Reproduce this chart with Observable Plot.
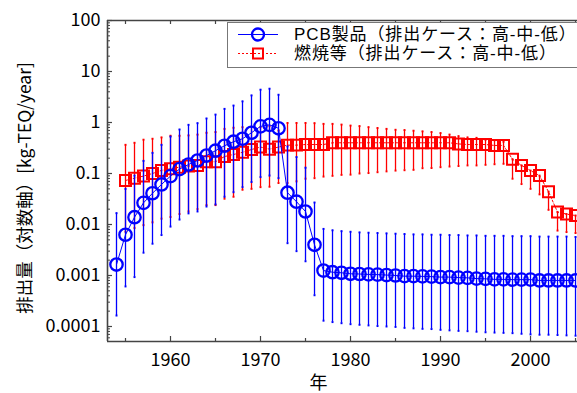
<!DOCTYPE html>
<html><head><meta charset="utf-8">
<script src="https://cdn.jsdelivr.net/npm/d3@7"></script>
<script src="https://cdn.jsdelivr.net/npm/@observablehq/plot@0.6"></script>
<style>
body{margin:0;background:#fff;}
#wrap{position:relative;width:577px;height:393px;overflow:hidden;font-family:"Noto Sans CJK JP",sans-serif;}
#legend{position:absolute;left:227px;top:22px;width:350px;height:46px;border:1px solid #777;border-right:none;background:#fff;box-sizing:border-box;}
.row{position:absolute;left:0;height:19px;display:flex;align-items:center;white-space:nowrap;color:#000;font-family:"Liberation Sans","Noto Sans CJK JP",sans-serif;font-size:17px;line-height:19px;}
.row svg{display:block;flex:none;}
.row span{margin-left:6px;letter-spacing:0.9px;}
</style></head><body>
<div id="wrap"><div id="chart"></div><div id="legend"></div></div>
<script>
// ---- data ----
const pcbYears = [1954,1955,1956,1957,1958,1959,1960,1961,1962,1963,1964,1965,1966,1967,1968,1969,1970,1971,1972,1973,1974,1975,1976,1977,1978,1979,1980,1981,1982,1983,1984,1985,1986,1987,1988,1989,1990,1991,1992,1993,1994,1995,1996,1997,1998,1999,2000,2001,2002,2003,2004,2005];
const pcbMid = [0.00164,0.0063,0.0139,0.0266,0.041,0.061,0.089,0.122,0.15,0.18,
  0.225,0.28,0.35,0.42,0.48,0.63,0.84,0.9,0.77,0.042,
  0.028,0.018,0.004,0.00125,0.00116,0.00113,0.00108,0.00107,0.00105,0.00104,
  0.00102,0.001,0.00097,0.00097,0.00096,0.00095,0.00093,0.00093,0.00091,0.0009,
  0.00087,0.00086,0.00084,0.00084,0.00083,0.00083,0.00083,0.0008,0.0008,0.0008,
  0.0008,0.0008];
const pcbHigh = [0.0167,0.05,0.091,0.177,0.254,0.365,0.53,0.73,0.9,0.97,
  1.2,1.43,1.85,2.15,2.6,3.4,4.4,4.6,3.5,0.34,
  0.21,0.13,0.027,0.0082,0.0077,0.0074,0.0072,0.007,0.0069,0.0068,
  0.0067,0.0066,0.0065,0.0064,0.0064,0.0063,0.0063,0.0062,0.0062,0.0061,
  0.0061,0.006,0.006,0.006,0.0059,0.0059,0.0059,0.0058,0.0058,0.0058,
  0.0058,0.0057];
const pcbLow = [0.000164,0.00061,0.00093,0.0028,0.0042,0.0062,0.0091,0.0125,0.0165,0.018,
  0.0225,0.0247,0.035,0.043,0.054,0.068,0.085,0.091,0.081,0.0043,
  0.003,0.0019,0.00041,0.00013,0.000122,0.000116,0.000111,0.000108,0.000105,0.000102,
  0.0001,0.000098,0.000094,0.000092,0.00009,0.000089,0.000086,0.000084,0.000082,0.000081,
  0.000079,0.000077,0.000076,0.000075,0.000074,0.000072,0.00007,0.000069,0.000069,0.000068,
  0.000067,0.000066];

const combYears = [1955,1956,1957,1958,1959,1960,1961,1962,1963,1964,1965,1966,1967,1968,1969,1970,1971,1972,1973,1974,1975,1976,1977,1978,1979,1980,1981,1982,1983,1984,1985,1986,1987,1988,1989,1990,1991,1992,1993,1994,1995,1996,1997,1998,1999,2000,2001,2002,2003,2004,2005];
const combMid = [0.073,0.081,0.089,0.1,0.115,0.124,0.133,0.14,0.144,0.17,
  0.17,0.215,0.236,0.26,0.295,0.33,0.3,0.33,0.36,0.36,
  0.37,0.37,0.37,0.4,0.4,0.4,0.4,0.4,0.4,0.4,
  0.4,0.4,0.4,0.4,0.4,0.4,0.4,0.38,0.37,0.37,
  0.37,0.355,0.355,0.19,0.144,0.114,0.091,0.044,0.0175,0.016,
  0.015];
const combHigh = [0.365,0.4,0.46,0.48,0.51,0.55,0.55,0.56,0.58,0.63,
  0.65,0.75,0.79,0.81,0.83,0.81,0.85,0.7,0.98,0.98,
  0.98,0.97,0.94,0.94,0.91,0.87,0.85,0.81,0.78,0.75,
  0.72,0.71,0.69,0.67,0.65,0.62,0.58,0.54,0.51,0.5,
  0.46,0.45,0.42,0.19,0.144,0.114,0.091,0.044,0.0175,0.016,
  0.015];
const combLow = [0.0072,0.0085,0.0097,0.011,0.013,0.014,0.016,0.018,0.02,0.024,
  0.024,0.032,0.035,0.048,0.05,0.054,0.055,0.065,0.065,0.07,
  0.079,0.081,0.087,0.09,0.094,0.095,0.1,0.102,0.106,0.11,
  0.114,0.116,0.118,0.127,0.128,0.133,0.137,0.14,0.144,0.144,
  0.148,0.152,0.155,0.079,0.062,0.05,0.039,0.0194,0.0076,0.0071,
  0.0068];

const seriesNames = ["PCB製品（排出ケース：高-中-低）", "燃焼等（排出ケース：高-中-低）"];
const xMajor = [1960,1970,1980,1990,2000];
const xMinor = [1955,1965,1975,1985,1995,2005];
const yMajor = [100,10,1,0.1,0.01,0.001,0.0001];
const yTickLabels = ["100","10","1","0.1","0.01","0.001","0.0001"];
const xLabel = "年";
const yLabel = "排出量（対数軸）[kg-TEQ/year]";

// ---- layout ----
const W = 577, H = 393, mL = 107, mT = 20, mR = 0, mB = 52;
const plotW = W - mL - mR, plotH = H - mT - mB;
const xDomain = [1953, 2005.22];
const yDomain = [5.08e-5, 100];
const axisColor = "#444";
const blue = "#0000ff", red = "#ff0000";

const pcb = pcbYears.map((year, i) => ({year, mid: pcbMid[i], high: pcbHigh[i], low: pcbLow[i]}));
const comb = combYears.map((year, i) => ({year, mid: combMid[i], high: combHigh[i], low: combLow[i]}));
const caps = data => data.flatMap(d => [{year: d.year, v: d.high}, {year: d.year, v: d.low}]);
const yMinor = [];
for (let e = -5; e <= 1; e++) for (let m = 2; m <= 9; m++) {
  const v = m * Math.pow(10, e);
  if (v >= yDomain[0] && v <= yDomain[1]) yMinor.push(v);
}
const labelMap = new Map(yMajor.map((v, i) => [v, yTickLabels[i]]));

const chart = Plot.plot({
  width: W, height: H, marginLeft: mL, marginTop: mT, marginRight: mR, marginBottom: mB,
  style: {fontFamily: '"Noto Sans CJK JP", sans-serif', fontSize: "18px", color: "#000", background: "#fff", overflow: "hidden"},
  x: {domain: xDomain},
  y: {type: "log", domain: yDomain},
  marks: [
    Plot.axisX(xMajor, {tickSize: 0, tickPadding: 12, tickFormat: d => String(d), fontSize: 18, label: null}),
    Plot.axisY(yMajor, {tickSize: 0, tickPadding: 7, tickFormat: d => labelMap.get(d), fontSize: 18, label: null}),
    // inward ticks
    Plot.tickX(xMajor, {x: d => d, insetTop: plotH - 5, stroke: axisColor, strokeWidth: 1.2}),
    Plot.tickX(xMinor, {x: d => d, insetTop: plotH - 3, stroke: axisColor, strokeWidth: 1.2}),
    Plot.tickX(xMajor.concat(xMinor), {x: d => d, insetBottom: plotH - 4, stroke: axisColor, strokeWidth: 1.2}),
    Plot.tickY(yMajor, {y: d => d, insetRight: plotW - 5, stroke: axisColor, strokeWidth: 1.2}),
    Plot.tickY(yMinor, {y: d => d, insetRight: plotW - 3, stroke: axisColor, strokeWidth: 1}),
    // frame lines
    Plot.ruleX([xDomain[0]], {stroke: axisColor, strokeWidth: 1.6}),
    Plot.ruleY([yDomain[0]], {stroke: axisColor, strokeWidth: 1.6}),
    Plot.ruleY([yDomain[1]], {stroke: axisColor, strokeWidth: 1.6}),
    // combustion series
    Plot.ruleX(comb, {x: "year", y1: "low", y2: "high", stroke: red, strokeWidth: 1.3}),
    Plot.dot(caps(comb), {x: "year", y: "v", symbol: "square", r: 1.1, fill: red, stroke: null}),
    Plot.line(comb, {x: "year", y: "mid", stroke: red, strokeWidth: 1, strokeDasharray: "2,2"}),
    Plot.dot(comb, {x: "year", y: "mid", symbol: "square", r: 6.2, stroke: red, strokeWidth: 2, fill: "none"}),
    // PCB series
    Plot.ruleX(pcb, {x: "year", y1: "low", y2: "high", stroke: blue, strokeWidth: 1.3}),
    Plot.dot(caps(pcb), {x: "year", y: "v", symbol: "square", r: 1.1, fill: blue, stroke: null}),
    Plot.line(pcb, {x: "year", y: "mid", stroke: blue, strokeWidth: 1}),
    Plot.dot(pcb, {x: "year", y: "mid", symbol: "circle", r: 6.2, stroke: blue, strokeWidth: 2.3, fill: "none"}),
    // axis titles
    Plot.text([yLabel], {frameAnchor: "left", textAnchor: "middle", lineAnchor: "middle", rotate: -90, dx: -82, dy: 7, fontSize: 17.5, fill: "#000"}),
    Plot.text([xLabel], {frameAnchor: "bottom", textAnchor: "middle", lineAnchor: "middle", dx: -24, dy: 42, fontSize: 18, fill: "#000"})
  ]
});
document.getElementById("chart").appendChild(chart);

// legend
const legend = document.getElementById("legend");
const row1 = document.createElement("div");
row1.className = "row"; row1.style.top = "2px";
row1.innerHTML = `<svg width="60" height="19"><line x1="10" x2="50" y1="9.5" y2="9.5" stroke="${blue}" stroke-width="1"/><circle cx="30" cy="9.5" r="6" fill="none" stroke="${blue}" stroke-width="2.3"/></svg><span>${seriesNames[0]}</span>`;
const row2 = document.createElement("div");
row2.className = "row"; row2.style.top = "21px";
row2.innerHTML = `<svg width="60" height="19"><line x1="10" x2="50" y1="9.5" y2="9.5" stroke="${red}" stroke-width="1" stroke-dasharray="2,2"/><rect x="25" y="4.5" width="10" height="10" fill="none" stroke="${red}" stroke-width="2"/></svg><span>${seriesNames[1]}</span>`;
legend.appendChild(row1);
legend.appendChild(row2);
</script>
</body></html>
